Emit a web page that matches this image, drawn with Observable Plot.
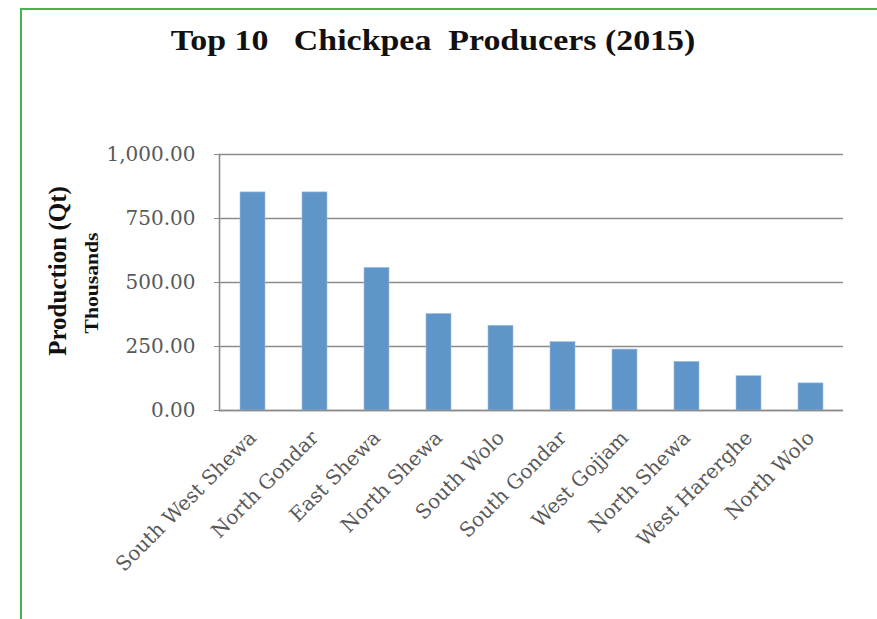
<!DOCTYPE html>
<html>
<head>
<meta charset="utf-8">
<script src="https://cdn.jsdelivr.net/npm/d3@7"></script>
<script src="https://cdn.jsdelivr.net/npm/@observablehq/plot@0.6"></script>
<style>
  html, body { margin: 0; padding: 0; background: #fff; }
  #wrap { position: relative; width: 877px; height: 619px; overflow: hidden; background: #fff; }
  .bl { position: absolute; left: 20px; top: 8px; width: 2px; height: 611px; background: #4cb050; }
  .bt { position: absolute; left: 20px; top: 8px; width: 857px; height: 2px; background: #4cb050; }
  #title { position: absolute; left: 433px; top: 40px; white-space: pre;
           transform: translate(-50%, -50%) scale(1.13, 1);
           font-family: "Liberation Serif", serif; font-weight: bold; font-size: 30px; color: #111; }
  .ylab { position: absolute; white-space: pre; font-family: "Liberation Serif", serif; font-weight: bold; color: #111; }
  #chart { position: absolute; left: 0; top: 0; }
</style>
</head>
<body>
<div id="wrap">
  <div class="bl"></div>
  <div class="bt"></div>
  <div id="title">Top 10   Chickpea  Producers (2015)</div>
  <div class="ylab" style="left:58px; top:271px; font-size:25px; transform: translate(-50%, -50%) rotate(-90deg);">Production (Qt)</div>
  <div class="ylab" style="left:92px; top:283px; font-size:18px; transform: translate(-50%, -50%) rotate(-90deg) scale(1.2, 1);">Thousands</div>
  <div id="chart"></div>
</div>
<script>
const regions = ["South West Shewa", "North Gondar", "East Shewa", "North Shewa", "South Wolo",
                 "South Gondar", "West Gojjam", "North Shewa ", "West Harerghe", "North Wolo"];
const production = [852, 852, 557, 377, 331, 267, 238, 190, 134, 106];
const yTicks = [0, 250, 500, 750, 1000];

const data = regions.map((r, i) => ({region: r, value: production[i]}));

const chart = Plot.plot({
  width: 877,
  height: 619,
  marginLeft: 219,
  marginRight: 34,
  marginTop: 154,
  marginBottom: 209,
  style: {background: "transparent"},
  x: {domain: regions, paddingInner: 0.6, paddingOuter: 0.3, label: null},
  y: {domain: [0, 1000], label: null},
  marks: [
    Plot.gridY(yTicks, {stroke: "#8c8c8c", strokeOpacity: 1, strokeWidth: 1.6}),
    Plot.barY(data, {x: "region", y: "value", fill: "#6095c9", stroke: "#9fc0e2", strokeWidth: 0.6}),
    Plot.frame({anchor: "left", stroke: "#8c8c8c", strokeWidth: 1.6}),
    Plot.ruleY([0], {stroke: "#8c8c8c", strokeWidth: 1.6}),
    Plot.axisY({ticks: yTicks, tickFormat: d3.format(",.2f"), tickSize: 5, tickPadding: 19,
                stroke: "#8c8c8c", fill: "#595959", fontSize: 20,
                fontFamily: "DejaVu Serif", label: null}),
    Plot.axisX({tickSize: 0, tickRotate: -45, tickPadding: 24, fill: "#595959", fontSize: 20,
                fontFamily: "DejaVu Serif", label: null, tickFormat: d => d.trim()})
  ]
});
document.getElementById("chart").appendChild(chart);
</script>
</body>
</html>
